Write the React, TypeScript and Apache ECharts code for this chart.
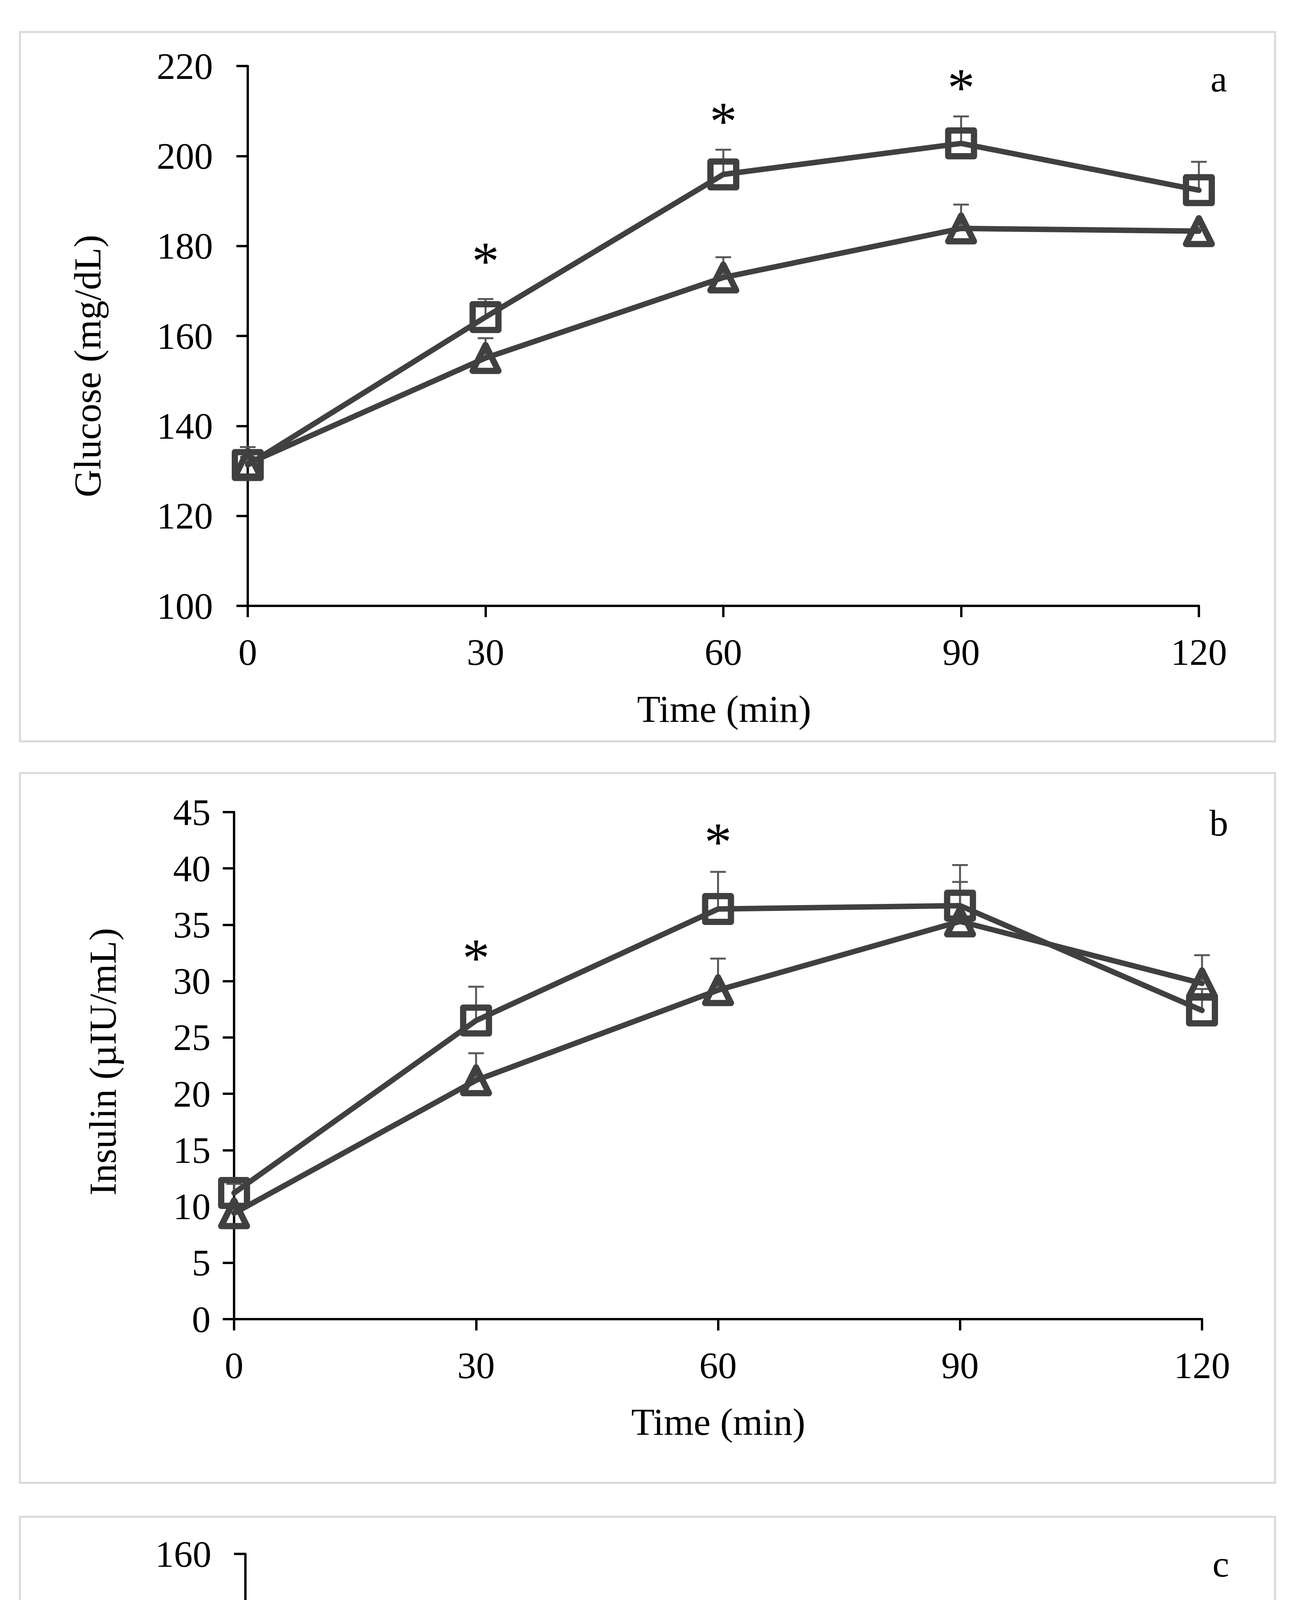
import React, { useEffect, useRef } from "react";
import * as echarts from "echarts";

const W = 3337;
const H = 5769;
const FONT = '"Liberation Serif", "Times New Roman", serif';

const times = [0, 30, 60, 90, 120];

// Panel a: Glucose (mg/dL)
const glucoseSquare = [131.3, 164.2, 195.9, 202.8, 192.4];
const glucoseSquareSE = [4.0, 4.0, 5.5, 6.0, 6.3];
const glucoseTriangle = [131.6, 155.1, 173.0, 183.9, 183.3];
const glucoseTriangleSE = [1.5, 4.4, 4.5, 5.3, 0.8];
const glucoseStarTimes = [30, 60, 90];
const glucoseStarLevels = [178.3, 209.4, 216.8];

// Panel b: Insulin (µIU/mL)
const insulinSquare = [11.2, 26.5, 36.4, 36.7, 27.4];
const insulinSquareSE = [0.8, 3.0, 3.3, 3.6, 1.9];
const insulinTriangle = [9.4, 21.2, 29.2, 35.3, 29.8];
const insulinTriangleSE = [0.4, 2.4, 2.8, 3.5, 2.5];
const insulinStarTimes = [30, 60];
const insulinStarLevels = [32.7, 43.0];

// Panel c: TG (mg/dL)
const tgSquare = [122.3, 123.6, 128.8, 134.8, 138.6];
const tgSquareSE = [6.7, 6.6, 6.8, 7.2, 8.0];
const tgTriangle = [127.1, 127.2, 130.5, 136.6, 143.7];
const tgTriangleSE = [7.5, 7.7, 7.7, 8.3, 8.6];

const panelLetters = ["a", "b", "c"];
const yTitles = ["Glucose (mg/dL)", "Insulin (µIU/mL)", "TG (mg/dL)"];
const xTitle = "Time (min)";

const yRanges = [
  { min: 100, max: 220, interval: 20 },
  { min: 0, max: 45, interval: 5 },
  { min: 100, max: 160, interval: 20 },
];

// layout (pixels)
const grids = [
  { left: 634, right: W - 3068, top: 169, height: 1382 },
  { left: 599, right: W - 3076, top: 2079, height: 1298 },
  { left: 628, right: W - 3085, top: 3978, height: 1304 },
];
const yLabelMargins = [89, 60, 87];
const frames = [
  { y1: 82, y2: 1898 },
  { y1: 1979, y2: 3796 },
  { y1: 3883, y2: 5700 },
];
const yTitlePos = [
  [224, 937],
  [263, 2718],
  [239, 4610],
];
const xTitlePos = [
  [1853, 1815],
  [1838, 3640],
  [1859, 5547],
];
const letterPos = [
  [3119, 201],
  [3119, 2106],
  [3124, 4003],
];

const LINE = "#404040";
const ERR = "#595959";

function errorSeries(idx: number, vals: number[], se: number[]) {
  return {
    type: "custom",
    xAxisIndex: idx,
    yAxisIndex: idx,
    silent: true,
    z: 1,
    encode: { x: 0, y: [1, 2] },
    data: times.map((t, i) => [t, vals[i], vals[i] + se[i]]),
    renderItem: (params: any, api: any) => {
      const p0 = api.coord([api.value(0), api.value(1)]);
      const p1 = api.coord([api.value(0), api.value(2)]);
      const st = { stroke: ERR, lineWidth: 5 };
      return {
        type: "group",
        children: [
          { type: "line", shape: { x1: p0[0], y1: p0[1], x2: p1[0], y2: p1[1] }, style: st },
          { type: "line", shape: { x1: p1[0] - 20, y1: p1[1], x2: p1[0] + 20, y2: p1[1] }, style: st },
        ],
      };
    },
  };
}

function lineSeries(idx: number, vals: number[], symbol: string) {
  return {
    type: "line",
    xAxisIndex: idx,
    yAxisIndex: idx,
    silent: true,
    z: 3,
    data: times.map((t, i) => [t, vals[i]]),
    symbol,
    symbolSize: 66,
    showSymbol: true,
    lineStyle: { color: LINE, width: 14, join: "round", cap: "round" },
    itemStyle: { color: "rgba(0,0,0,0)", borderColor: LINE, borderWidth: 16, borderJoin: "round" },
    emphasis: { disabled: true },
  };
}

function starSeries(idx: number, ts: number[], levels: number[]) {
  return {
    type: "custom",
    xAxisIndex: idx,
    yAxisIndex: idx,
    silent: true,
    z: 4,
    data: ts.map((t, i) => [t, levels[i]]),
    renderItem: (params: any, api: any) => {
      const p = api.coord([api.value(0), api.value(1)]);
      return {
        type: "text",
        x: p[0],
        y: p[1] + 18,
        style: {
          text: "*",
          fontSize: 140,
          fontFamily: FONT,
          fill: "#000",
          align: "center",
          verticalAlign: "middle",
        },
      };
    },
  };
}

export default function App() {
  const ref = useRef<HTMLDivElement>(null);

  useEffect(() => {
    if (!ref.current) return;
    document.body.style.margin = "0";
    const chart = echarts.init(ref.current, undefined, { renderer: "svg", width: W, height: H });

    const xAxis = grids.map((_, i) => ({
      gridIndex: i,
      type: "value",
      min: 0,
      max: 120,
      interval: 30,
      axisLine: { show: true, onZero: false, lineStyle: { color: "#000", width: 6 } },
      axisTick: { show: true, inside: false, length: 29, lineStyle: { color: "#000", width: 6 } },
      axisLabel: { margin: 70, fontSize: 96, fontFamily: FONT, color: "#000" },
      splitLine: { show: false },
    }));

    const yAxis = grids.map((_, i) => ({
      gridIndex: i,
      type: "value",
      min: yRanges[i].min,
      max: yRanges[i].max,
      interval: yRanges[i].interval,
      axisLine: { show: true, onZero: false, lineStyle: { color: "#000", width: 6 } },
      axisTick: { show: true, inside: false, length: 29, lineStyle: { color: "#000", width: 6 } },
      axisLabel: { margin: yLabelMargins[i], fontSize: 96, fontFamily: FONT, color: "#000" },
      splitLine: { show: false },
    }));

    const graphic: any[] = [];
    frames.forEach((f) => {
      graphic.push({
        type: "rect",
        z: -1,
        shape: { x: 51, y: f.y1, width: 3263 - 51, height: f.y2 - f.y1 },
        style: { fill: "none", stroke: "#d9d9d9", lineWidth: 5 },
        silent: true,
      });
    });
    yTitles.forEach((t, i) => {
      graphic.push({
        type: "text",
        x: yTitlePos[i][0],
        y: yTitlePos[i][1],
        rotation: Math.PI / 2,
        style: { text: t, fontSize: 98, fontFamily: FONT, fill: "#000", align: "center", verticalAlign: "middle" },
        silent: true,
      });
    });
    xTitlePos.forEach((p) => {
      graphic.push({
        type: "text",
        x: p[0],
        y: p[1],
        style: { text: xTitle, fontSize: 98, fontFamily: FONT, fill: "#000", align: "center", verticalAlign: "middle" },
        silent: true,
      });
    });
    panelLetters.forEach((l, i) => {
      graphic.push({
        type: "text",
        x: letterPos[i][0],
        y: letterPos[i][1],
        style: { text: l, fontSize: 96, fontFamily: FONT, fill: "#000", align: "center", verticalAlign: "middle" },
        silent: true,
      });
    });

    const series: any[] = [
      errorSeries(0, glucoseTriangle, glucoseTriangleSE),
      errorSeries(0, glucoseSquare, glucoseSquareSE),
      lineSeries(0, glucoseTriangle, "triangle"),
      lineSeries(0, glucoseSquare, "rect"),
      starSeries(0, glucoseStarTimes, glucoseStarLevels),

      errorSeries(1, insulinTriangle, insulinTriangleSE),
      errorSeries(1, insulinSquare, insulinSquareSE),
      lineSeries(1, insulinTriangle, "triangle"),
      lineSeries(1, insulinSquare, "rect"),
      starSeries(1, insulinStarTimes, insulinStarLevels),

      errorSeries(2, tgTriangle, tgTriangleSE),
      errorSeries(2, tgSquare, tgSquareSE),
      lineSeries(2, tgTriangle, "triangle"),
      lineSeries(2, tgSquare, "rect"),
    ];

    chart.setOption({
      animation: false,
      backgroundColor: "#ffffff",
      textStyle: { fontFamily: FONT },
      grid: grids.map((g) => ({ ...g, containLabel: false })),
      xAxis,
      yAxis,
      graphic,
      series,
    });

    return () => {
      chart.dispose();
    };
  }, []);

  return <div ref={ref} style={{ width: W, height: H, background: "#fff" }} />;
}
